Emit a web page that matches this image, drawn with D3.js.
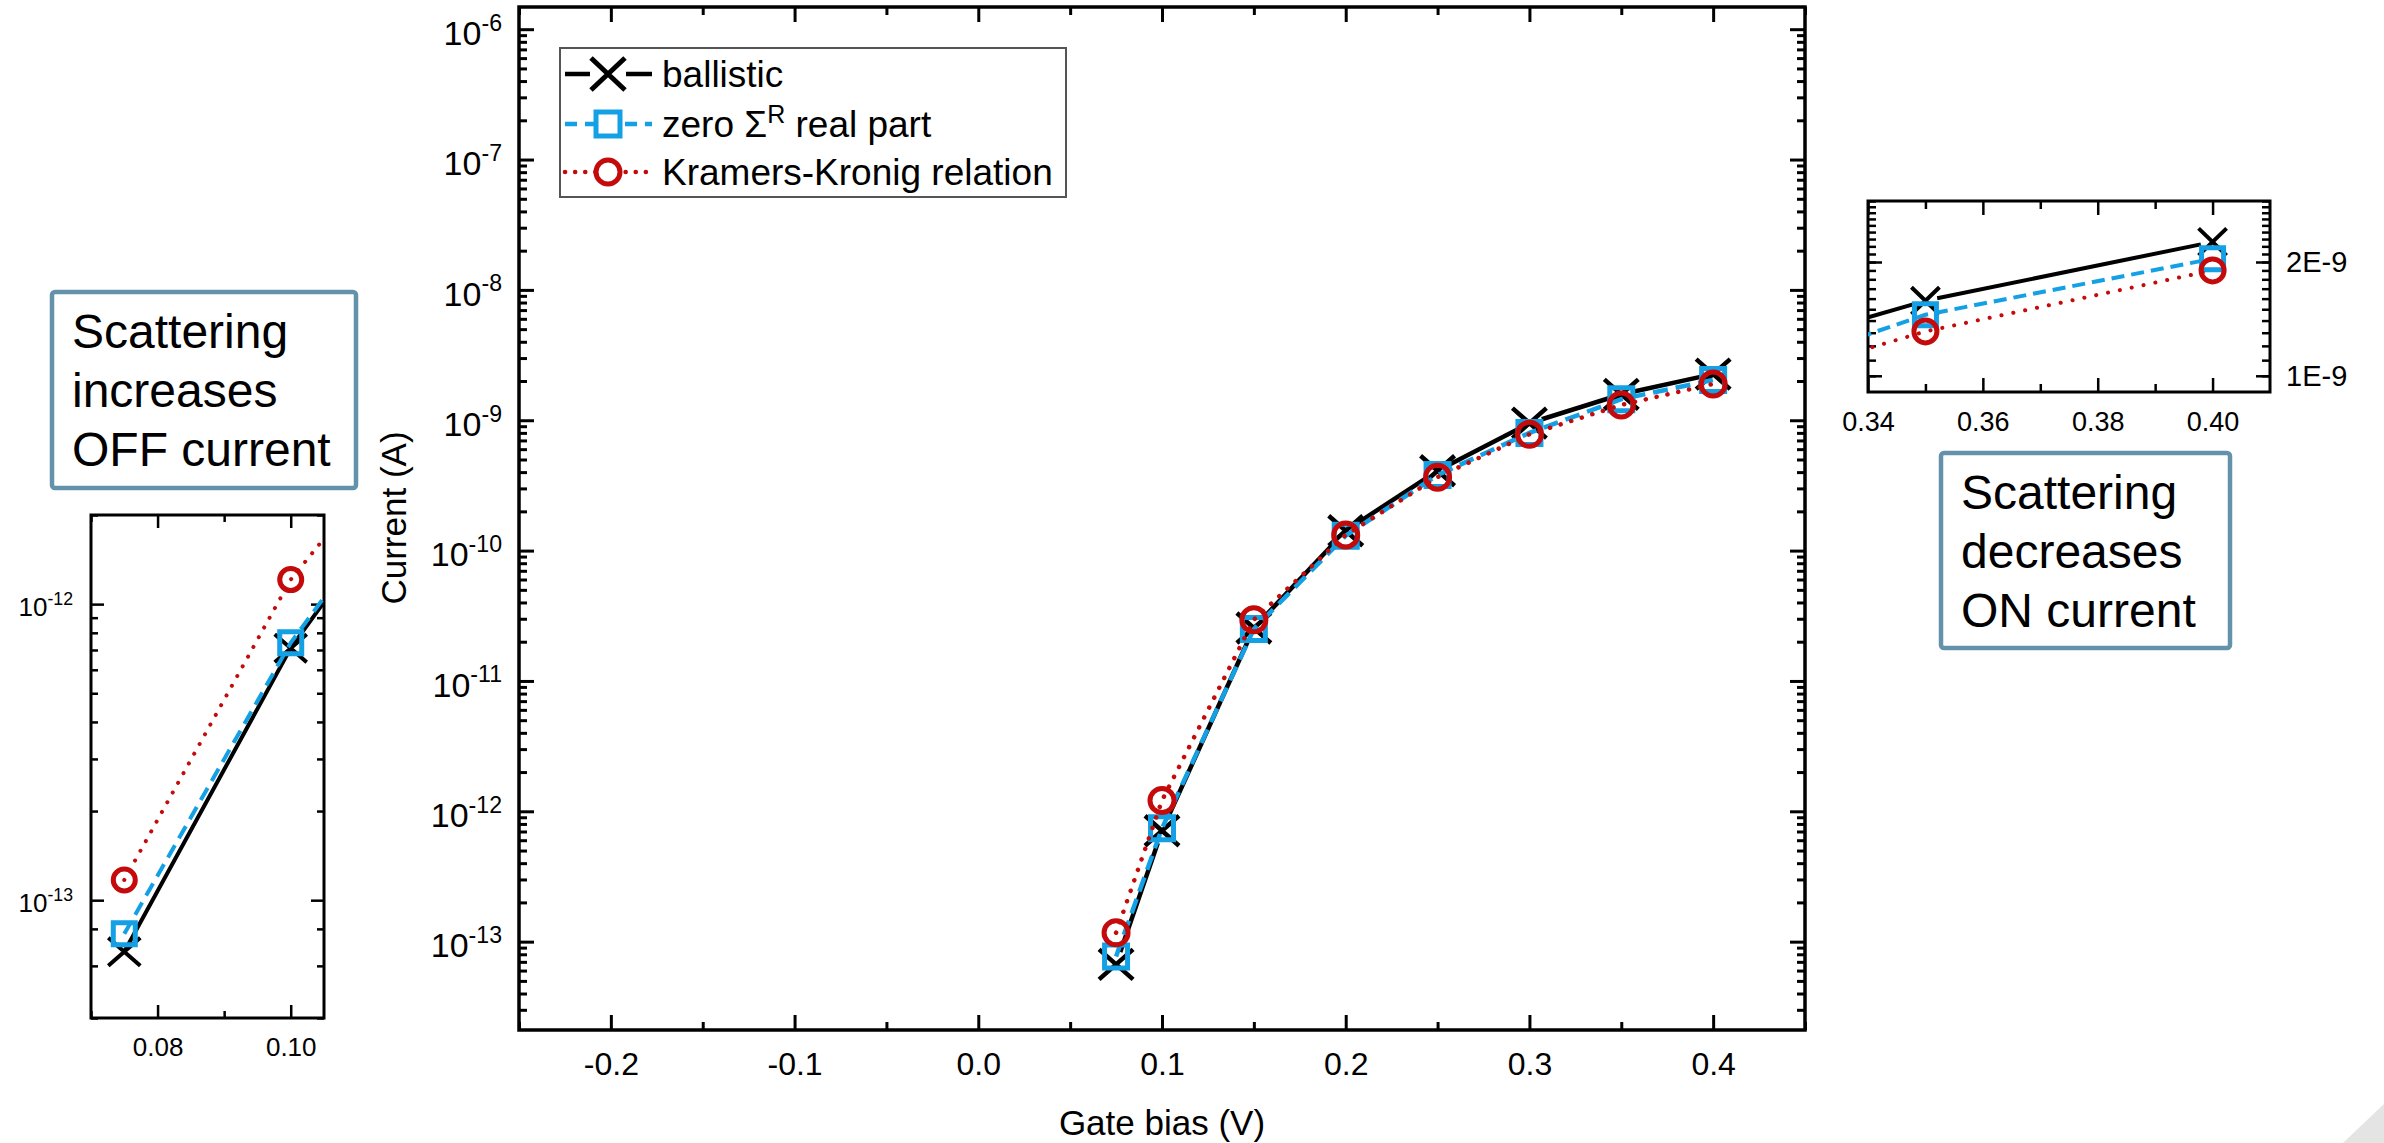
<!DOCTYPE html>
<html>
<head>
<meta charset="utf-8">
<script src="https://cdn.jsdelivr.net/npm/d3@7"></script>
<style>
  body { margin: 0; background: #fff; }
  svg { display: block; font-family: "Liberation Sans", Arial, sans-serif; }
</style>
</head>
<body>
<svg id="chart" width="2384" height="1143"></svg>
<script>
// gate bias (V) and drain current (A)
const gateBias = [0.075, 0.1, 0.15, 0.2, 0.25, 0.3, 0.35, 0.4];
const ballistic = [6.7e-14, 7.1e-13, 2.55e-11, 1.42e-10, 4.1e-10, 9.5e-10, 1.58e-9, 2.26e-9];
const zeroReal = [7.7e-14, 7.4e-13, 2.5e-11, 1.3e-10, 3.8e-10, 8.0e-10, 1.45e-9, 2.04e-9];
const kramersKronig = [1.17e-13, 1.21e-12, 2.95e-11, 1.32e-10, 3.66e-10, 7.8e-10, 1.31e-9, 1.90e-9];

const seriesNames = ["ballistic", "zero \u03a3", "Kramers-Kronig relation"];

// tick values / labels
const mainXTicks = [-0.2, -0.1, 0.0, 0.1, 0.2, 0.3, 0.4];
const mainXLabels = ["-0.2", "-0.1", "0.0", "0.1", "0.2", "0.3", "0.4"];
const mainXMinor = [-0.25, -0.15, -0.05, 0.05, 0.15, 0.25, 0.35, 0.45];
const mainYTicks = [1e-13, 1e-12, 1e-11, 1e-10, 1e-9, 1e-8, 1e-7, 1e-6];

const offXTicks = [0.08, 0.10];
const offXLabels = ["0.08", "0.10"];
const offXMinor = [0.07, 0.09];
const offYTicks = [1e-13, 1e-12];

const onXTicks = [0.34, 0.36, 0.38, 0.40];
const onXLabels = ["0.34", "0.36", "0.38", "0.40"];
const onXMinor = [0.35, 0.37, 0.39];
const onYTicks = [1e-9, 2e-9];
const onYLabels = ["1E-9", "2E-9"];
const onYMinor = d3.range(10, 30).map(k => k * 1e-10);

const svg = d3.select("#chart");

const colors = {black: "#000000", blue: "#13a0e4", red: "#c40a0a", box: "#6392aa"};

function logMinor(scale) {
  // 2..9 x 10^k inside the domain
  return scale.ticks(100).filter(v => {
    const m = v / Math.pow(10, Math.floor(Math.log10(v) + 1e-9));
    return Math.abs(m - Math.round(m)) < 1e-6 && Math.round(m) !== 1;
  });
}

function markerPath(type, s) {
  if (type === "x") {
    return `M${-s.hx},${-s.hy}L${s.hx},${s.hy}M${-s.hx},${s.hy}L${s.hx},${-s.hy}`;
  }
  if (type === "square") {
    const h = s.sq / 2;
    return `M${-h},${-h}H${h}V${h}H${-h}Z`;
  }
  const r = s.r;
  return `M${-r},0A${r},${r} 0 1,0 ${r},0A${r},${r} 0 1,0 ${-r},0Z`;
}

function styleAxis(sel, fs, tw) {
  sel.attr("font-family", null).attr("font-size", fs);
  sel.select(".domain").remove();
  sel.selectAll(".tick line").attr("stroke-width", tw);
  sel.selectAll(".tick text").attr("fill", "#000");
}

function supLabels(sel, dy) {
  sel.selectAll(".tick text").each(function(d) {
    const t = d3.select(this);
    if (!t.text()) return;
    t.text("10").attr("dy", dy);
    t.append("tspan").attr("dy", "-0.62em").attr("font-size", "0.68em")
      .text(Math.round(Math.log10(d)));
  });
}

function drawPanel(o) {
  const g = svg.append("g");
  const [xl, xr] = o.x.range();
  const [yb, yt] = o.y.range();
  const clipId = "clip-" + o.id;
  svg.append("clipPath").attr("id", clipId)
    .append("rect").attr("x", xl).attr("y", yt).attr("width", xr - xl).attr("height", yb - yt);

  const none = () => "";
  // bottom
  g.append("g").attr("transform", `translate(0,${yb})`)
    .call(d3.axisBottom(o.x).tickValues(o.xTicks).tickSize(-o.major).tickPadding(o.xPad)
      .tickFormat((d, i) => o.xLabels[i]))
    .call(s => styleAxis(s, o.xFont, o.tw));
  g.append("g").attr("transform", `translate(0,${yb})`)
    .call(d3.axisBottom(o.x).tickValues(o.xMinor).tickSize(-o.minor).tickFormat(none))
    .call(s => styleAxis(s, o.xFont, o.tw));
  // top
  g.append("g").attr("transform", `translate(0,${yt})`)
    .call(d3.axisTop(o.x).tickValues(o.xTicks).tickSize(-o.major).tickFormat(none))
    .call(s => styleAxis(s, o.xFont, o.tw));
  g.append("g").attr("transform", `translate(0,${yt})`)
    .call(d3.axisTop(o.x).tickValues(o.xMinor).tickSize(-o.minor).tickFormat(none))
    .call(s => styleAxis(s, o.xFont, o.tw));
  // left
  const leftLab = o.yLabelSide === "left";
  g.append("g").attr("transform", `translate(${xl},0)`)
    .call(d3.axisLeft(o.y).tickValues(o.yTicks).tickSize(-o.major).tickPadding(o.yPad)
      .tickFormat(leftLab ? (d => "10") : none))
    .call(s => styleAxis(s, o.yFont, o.tw))
    .call(s => { if (leftLab) supLabels(s, o.yDy); });
  g.append("g").attr("transform", `translate(${xl},0)`)
    .call(d3.axisLeft(o.y).tickValues(o.yMinor).tickSize(-o.minor).tickFormat(none))
    .call(s => styleAxis(s, o.yFont, o.tw));
  // right
  g.append("g").attr("transform", `translate(${xr},0)`)
    .call(d3.axisRight(o.y).tickValues(o.yTicks).tickSize(-o.major).tickPadding(o.yPad)
      .tickFormat(leftLab ? none : ((d, i) => o.yLabels[i])))
    .call(s => styleAxis(s, o.yFont, o.tw));
  g.append("g").attr("transform", `translate(${xr},0)`)
    .call(d3.axisRight(o.y).tickValues(o.yMinor).tickSize(-o.minor).tickFormat(none))
    .call(s => styleAxis(s, o.yFont, o.tw));

  // frame
  g.append("rect").attr("x", xl).attr("y", yt).attr("width", xr - xl).attr("height", yb - yt)
    .attr("fill", "none").attr("stroke", "#000").attr("stroke-width", o.frame);

  // data
  const plot = g.append("g").attr("clip-path", `url(#${clipId})`);
  const line = d3.line().x(d => o.x(d[0])).y(d => o.y(d[1]));
  const series = [
    {values: ballistic, color: colors.black, dash: null, marker: "x"},
    {values: zeroReal, color: colors.blue, dash: o.dashBlue, marker: "square"},
    {values: kramersKronig, color: colors.red, dash: o.dashRed, marker: "circle"}
  ];
  series.forEach(s => {
    const pts = gateBias.map((v, i) => [v, s.values[i]]);
    if (s.marker === "x" && o.gap > 0) {
      // line broken around the symbols
      const segs = d3.pairs(pts).map(([a, b]) => {
        const ax = o.x(a[0]), ay = o.y(a[1]), bx = o.x(b[0]), by = o.y(b[1]);
        const len = Math.hypot(bx - ax, by - ay), ux = (bx - ax) / len, uy = (by - ay) / len;
        return [ax + ux * o.gap, ay + uy * o.gap, bx - ux * o.gap, by - uy * o.gap];
      });
      plot.append("g").selectAll("line").data(segs).join("line")
        .attr("x1", d => d[0]).attr("y1", d => d[1]).attr("x2", d => d[2]).attr("y2", d => d[3])
        .attr("stroke", s.color).attr("stroke-width", o.lw);
    } else {
      plot.append("path").attr("d", line(pts)).attr("fill", "none")
        .attr("stroke", s.color).attr("stroke-width", o.lw)
        .attr("stroke-dasharray", s.dash)
        .attr("stroke-linecap", s.marker === "circle" ? "round" : "butt");
    }
    plot.append("g").selectAll("path").data(pts).join("path")
      .attr("transform", d => `translate(${o.x(d[0])},${o.y(d[1])})`)
      .attr("d", markerPath(s.marker, o.sym))
      .attr("fill", "none").attr("stroke", s.color)
      .attr("stroke-width", s.marker === "x" ? o.sym.xw : o.sym.w);
  });
  return g;
}

// main panel
const mainX = d3.scaleLinear().domain([-0.25, 0.45]).range([519, 1805]);
const mainY = d3.scaleLog().domain([2.1e-14, 1.48e-6]).range([1030, 7]);
drawPanel({
  id: "main", x: mainX, y: mainY,
  xTicks: mainXTicks, xLabels: mainXLabels, xMinor: mainXMinor,
  yTicks: mainYTicks, yMinor: logMinor(mainY), yLabelSide: "left",
  major: 15, minor: 8, tw: 3, frame: 3.5, xPad: 22, yPad: 17, yDy: "0.45em",
  xFont: 32, yFont: 34, lw: 4.5, gap: 13,
  dashBlue: "15 8", dashRed: "0.1 11",
  sym: {hx: 17, hy: 15, xw: 4.5, sq: 23, r: 12, w: 5}
});

svg.append("text").attr("x", (519 + 1805) / 2).attr("y", 1135)
  .attr("text-anchor", "middle").attr("font-size", 35).text("Gate bias (V)");
svg.append("text").attr("transform", "translate(406,518) rotate(-90)")
  .attr("text-anchor", "middle").attr("font-size", 35).text("Current (A)");

// legend
const legend = svg.append("g");
legend.append("rect").attr("x", 560).attr("y", 48).attr("width", 506).attr("height", 149)
  .attr("fill", "#fff").attr("stroke", "#555").attr("stroke-width", 2);
const legRows = [
  {y: 74, color: colors.black, dash: null, marker: "x"},
  {y: 124, color: colors.blue, dash: "12 8", marker: "square"},
  {y: 172, color: colors.red, dash: "0.1 10", marker: "circle"}
];
const legSym = {hx: 17, hy: 16, sq: 24, r: 12};
legRows.forEach((r, i) => {
  legend.append("line").attr("x1", 565).attr("x2", 652).attr("y1", r.y).attr("y2", r.y)
    .attr("stroke", r.color).attr("stroke-width", 4.5).attr("stroke-dasharray", r.dash)
    .attr("stroke-linecap", r.marker === "circle" ? "round" : "butt");
  if (r.marker === "x") {
    legend.append("rect").attr("x", 590).attr("y", r.y - 18).attr("width", 36).attr("height", 36).attr("fill", "#fff");
  }
  legend.append("path").attr("transform", `translate(608,${r.y})`)
    .attr("d", markerPath(r.marker, legSym))
    .attr("fill", r.marker === "x" ? "none" : "#fff")
    .attr("stroke", r.color).attr("stroke-width", 5);
  const t = legend.append("text").attr("x", 662).attr("y", r.y).attr("dy", "0.36em")
    .attr("font-size", 37).text(seriesNames[i]);
  if (i === 1) {
    t.append("tspan").attr("dy", "-14px").attr("font-size", 25).text("R");
    t.append("tspan").attr("dy", "14px").text(" real part");
  }
});

// OFF-current inset
const offX = d3.scaleLinear().domain([0.07, 0.105]).range([91, 324]);
const offY = d3.scaleLog().domain([4e-14, 2e-12]).range([1018, 515]);
drawPanel({
  id: "off", x: offX, y: offY,
  xTicks: offXTicks, xLabels: offXLabels, xMinor: offXMinor,
  yTicks: offYTicks, yMinor: logMinor(offY), yLabelSide: "left",
  major: 13, minor: 7, tw: 2.5, frame: 3, xPad: 20, yPad: 18, yDy: "0.42em",
  xFont: 26, yFont: 26, lw: 4, gap: 0,
  dashBlue: "14 8", dashRed: "0.1 11",
  sym: {hx: 16, hy: 14, xw: 4, sq: 22, r: 11, w: 5}
});

// ON-current inset
const onX = d3.scaleLinear().domain([0.34, 0.41]).range([1868, 2270]);
const onY = d3.scaleLog().domain([0.906e-9, 2.9e-9]).range([392, 201]);
drawPanel({
  id: "on", x: onX, y: onY,
  xTicks: onXTicks, xLabels: onXLabels, xMinor: onXMinor,
  yTicks: onYTicks, yLabels: onYLabels, yMinor: onYMinor, yLabelSide: "right",
  major: 14, minor: 8, tw: 2.5, frame: 3, xPad: 20, yPad: 16,
  xFont: 27, yFont: 29, lw: 4, gap: 12,
  dashBlue: "13 7", dashRed: "0.1 12",
  sym: {hx: 14, hy: 13.5, xw: 4, sq: 22, r: 11.5, w: 5}
});

// annotation boxes
function noteBox(x, y, w, h, lines) {
  const g = svg.append("g");
  g.append("rect").attr("x", x).attr("y", y).attr("width", w).attr("height", h).attr("rx", 3)
    .attr("fill", "#fff").attr("stroke", colors.box).attr("stroke-width", 4.5);
  g.selectAll("text").data(lines).join("text")
    .attr("x", x + 20).attr("y", (d, i) => y + 56 + i * 59)
    .attr("font-size", 48).text(d => d);
}
noteBox(52, 292, 304, 196, ["Scattering", "increases", "OFF current"]);
noteBox(1941, 453, 289, 195, ["Scattering", "decreases", "ON current"]);

// page-curl shading in the corner of the slide
svg.append("path").attr("d", "M2343,1143L2384,1104L2384,1143Z").attr("fill", "#e4e4e4");
</script>
</body>
</html>
